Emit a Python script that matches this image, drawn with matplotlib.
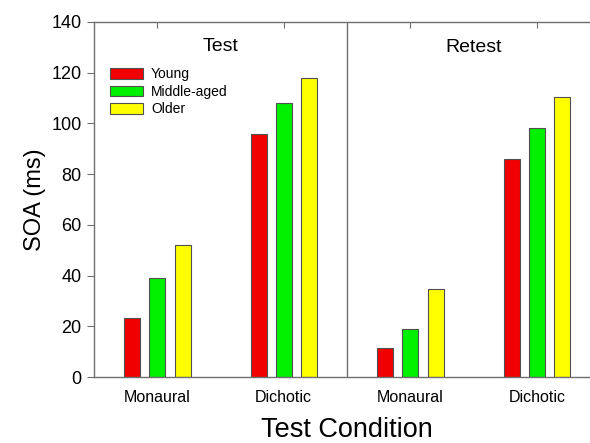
import numpy as np
import matplotlib
matplotlib.use('Agg')
import matplotlib.pyplot as plt
from matplotlib.patches import Patch

plt.rcParams['font.family'] = ['Liberation Sans', 'DejaVu Sans']

# data
conditions = ['Monaural', 'Dichotic', 'Monaural', 'Dichotic']
groups = ['Young', 'Middle-aged', 'Older']
young = [23.4, 95.8, 11.6, 86.1]
middle = [39.2, 107.9, 18.8, 98.3]
older = [52.1, 117.8, 34.7, 110.3]
colors = ['#f00000', '#00f000', '#ffff00']

fig = plt.figure(figsize=(5.9, 4.43), dpi=100)
ax = fig.add_axes([94/590, 66/443, 506/590, 355/443])

x = np.arange(len(conditions))
w = 0.127
for off, vals, c in zip([-0.198, 0, 0.2], [young, middle, older], colors):
    ax.bar(x + off, vals, width=w, color=c, edgecolor='#505050', linewidth=0.8)

ax.set_xlim(-0.5, 3.5)
ax.set_ylim(0, 140)
ax.set_yticks(range(0, 141, 20))
ax.set_xticks(x)
ax.set_xticklabels(conditions, fontsize=11.5)
ax.tick_params(axis='y', direction='out', length=5, labelsize=13, color='#707070', pad=4)
ax.tick_params(axis='x', bottom=False, top=True, direction='in', length=4, color='#707070', pad=9)
for s in ax.spines.values():
    s.set_color('#707070')
    s.set_linewidth(1)

ax.axvline(1.5, color='#707070', linewidth=1)

ax.text(0.5, 130.2, 'Test', ha='center', va='center', fontsize=14)
ax.text(2.5, 129.8, 'Retest', ha='center', va='center', fontsize=14)

ax.set_ylabel('SOA (ms)', fontsize=17, labelpad=4)
ax.set_xlabel('Test Condition', fontsize=19.5, labelpad=9)

handles = [Patch(facecolor=c, edgecolor='#505050', linewidth=0.8) for c in colors]
ax.legend(handles, groups, loc='upper left', bbox_to_anchor=(0.021, 0.888), frameon=False,
          fontsize=10, handlelength=2.35, handleheight=0.77, labelspacing=0.25, handletextpad=0.6,
          borderaxespad=0)

fig.savefig('out.png', dpi=100)
